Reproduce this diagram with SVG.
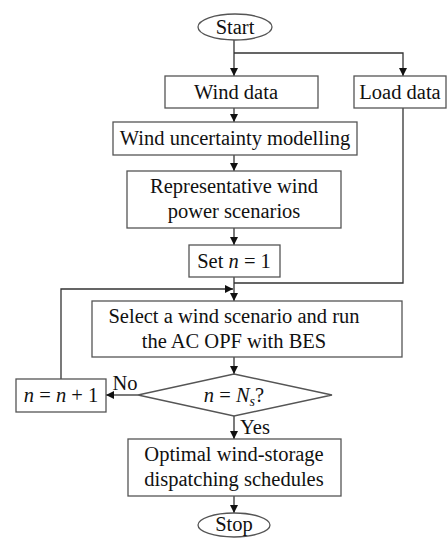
<svg xmlns="http://www.w3.org/2000/svg" width="448" height="538" viewBox="0 0 448 538">
<style>
.b{fill:#fff;stroke:#555;stroke-width:1.3}
.t{font-family:"Liberation Serif","Times New Roman",serif;font-size:20.5px;fill:#111;text-anchor:middle}
.l{fill:none;stroke:#333;stroke-width:1.3}
.i{font-style:italic}
</style>
<defs>
<marker id="a" markerUnits="userSpaceOnUse" markerWidth="10" markerHeight="8" refX="8" refY="4" orient="auto">
<path d="M0,0 L8,4 L0,8 Z" fill="#111"/>
</marker>
</defs>
<rect width="448" height="538" fill="#fff"/>
<g id="connectors">
<path class="l" d="M234,40 V76" marker-end="url(#a)"/>
<path class="l" d="M234,53 H403 V76" marker-end="url(#a)"/>
<path class="l" d="M234,108 V122" marker-end="url(#a)"/>
<path class="l" d="M234,155 V171" marker-end="url(#a)"/>
<path class="l" d="M234,228 V245" marker-end="url(#a)"/>
<path class="l" d="M234,277 V301" marker-end="url(#a)"/>
<path class="l" d="M403,108 V283 H234"/>
<path class="l" d="M61,379 V289 H233" marker-end="url(#a)"/>
<path class="l" d="M234,357 V374" marker-end="url(#a)"/>
<path class="l" d="M138,395 H106" marker-end="url(#a)"/>
<path class="l" d="M234,416 V439" marker-end="url(#a)"/>
<path class="l" d="M234,496 V513" marker-end="url(#a)"/>
<text class="t" x="125" y="390">No</text>
<text class="t" x="255" y="434">Yes</text>
</g>
<g id="start">
<ellipse class="b" cx="235" cy="27" rx="37" ry="13"/>
<text class="t" x="235" y="34">Start</text>
</g>
<g id="wind-data">
<rect class="b" x="165" y="76" width="153" height="32"/>
<text class="t" x="236" y="99">Wind data</text>
</g>
<g id="load-data">
<rect class="b" x="354" y="76" width="92" height="32"/>
<text class="t" x="400" y="99">Load data</text>
</g>
<g id="wind-uncertainty">
<rect class="b" x="113" y="122" width="244" height="33"/>
<text class="t" x="235" y="145">Wind uncertainty modelling</text>
</g>
<g id="representative">
<rect class="b" x="127" y="171" width="214" height="57"/>
<text class="t" x="234" y="193">Representative wind</text>
<text class="t" x="234" y="218">power scenarios</text>
</g>
<g id="set-n">
<rect class="b" x="189" y="245" width="91" height="32"/>
<text class="t" x="234" y="268">Set <tspan class="i">n</tspan> = 1</text>
</g>
<g id="select">
<rect class="b" x="92" y="301" width="310" height="56"/>
<text class="t" x="234" y="323">Select a wind scenario and run</text>
<text class="t" x="234" y="348">the AC OPF with BES</text>
</g>
<g id="decision">
<polygon class="b" points="234,374 332,395 234,416 138,395"/>
<text class="t" x="234" y="402"><tspan class="i">n</tspan> = <tspan class="i">N</tspan><tspan class="i" font-size="14" dy="4">s</tspan><tspan dy="-4">?</tspan></text>
</g>
<g id="increment">
<rect class="b" x="16" y="379" width="90" height="33"/>
<text class="t" x="61" y="402"><tspan class="i">n</tspan> = <tspan class="i">n</tspan> + 1</text>
</g>
<g id="optimal">
<rect class="b" x="128" y="439" width="213" height="57"/>
<text class="t" x="234" y="461">Optimal wind-storage</text>
<text class="t" x="234" y="486">dispatching schedules</text>
</g>
<g id="stop">
<ellipse class="b" cx="234" cy="525" rx="36" ry="12"/>
<text class="t" x="234" y="531">Stop</text>
</g>
</svg>
